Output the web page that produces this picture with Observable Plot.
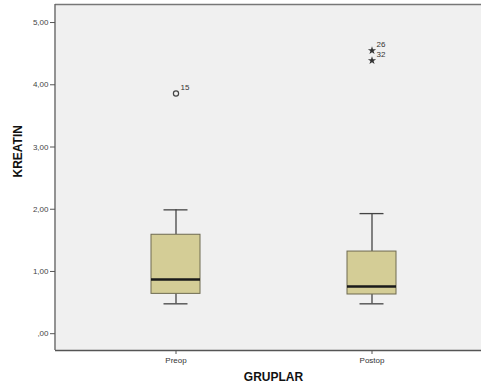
<!DOCTYPE html>
<html>
<head>
<meta charset="utf-8">
<script src="https://cdn.jsdelivr.net/npm/d3@7"></script>
<script src="https://cdn.jsdelivr.net/npm/@observablehq/plot@0.6"></script>
<style>
  html, body { margin: 0; padding: 0; background: #fff; overflow: hidden; width: 481px; height: 392px; }
  svg { font-family: "Liberation Sans", Arial, sans-serif; display: block; }
</style>
</head>
<body>
<div id="chart"></div>
<script>
const groups = ["Preop", "Postop"];
const whiskerLo = [0.48, 0.48];
const q1 = [0.64, 0.63];
const median = [0.87, 0.76];
const q3 = [1.59, 1.32];
const whiskerHi = [1.99, 1.93];

const outlierGroup = ["Preop", "Postop", "Postop"];
const outlierValue = [3.86, 4.55, 4.39];
const outlierLabel = ["15", "26", "32"];
const outlierKind = ["circle", "star", "star"];

const yTicks = [0, 1, 2, 3, 4, 5];

const boxes = groups.map((g, i) => ({g, lo: whiskerLo[i], q1: q1[i], med: median[i], q3: q3[i], hi: whiskerHi[i]}));
const outliers = outlierGroup.map((g, i) => ({g, v: outlierValue[i], label: outlierLabel[i], kind: outlierKind[i]}));

const fmt = d => d === 0 ? ",00" : d.toFixed(2).replace(".", ",");

// left frame edge drawn from the plot's own dimensions
const leftEdge = (index, scales, values, dims) => {
  const l = document.createElementNS("http://www.w3.org/2000/svg", "line");
  l.setAttribute("x1", dims.marginLeft);
  l.setAttribute("x2", dims.marginLeft);
  l.setAttribute("y1", dims.marginTop);
  l.setAttribute("y2", dims.height - dims.marginBottom);
  l.setAttribute("stroke", "#666");
  l.setAttribute("stroke-width", "1.4");
  return l;
};

const chart = Plot.plot({
  width: 481,
  height: 392,
  marginLeft: 55,
  marginRight: 0,
  marginTop: 4,
  marginBottom: 42,
  style: {background: "#fff", fontFamily: "Liberation Sans, Arial, sans-serif"},
  x: {type: "band", domain: groups, range: [55, 491], paddingInner: 0.75, paddingOuter: 0.487, align: 0.5, label: null},
  y: {domain: [-0.27, 5.29], label: null},
  marks: [
    Plot.frame({fill: "#f0f0f0", stroke: null}),
    Plot.ruleY([5.29], {stroke: "#777", strokeWidth: 1.6}),
    Plot.ruleY([-0.27], {stroke: "#555", strokeWidth: 1.4}),
    leftEdge,
    Plot.axisY({ticks: yTicks, tickFormat: fmt, tickSize: 5, fontSize: 8, color: "#444", stroke: "#555", label: null, tickPadding: 2}),
    Plot.axisX({tickSize: 4, fontSize: 8, color: "#333", stroke: "#555", label: null, tickPadding: 3}),
    Plot.ruleX(boxes, {x: "g", y1: "lo", y2: "q1", stroke: "#444", strokeWidth: 1.3}),
    Plot.ruleX(boxes, {x: "g", y1: "q3", y2: "hi", stroke: "#444", strokeWidth: 1.3}),
    Plot.tickY(boxes, {x: "g", y: "lo", stroke: "#444", strokeWidth: 1.3, insetLeft: 12.5, insetRight: 12.5}),
    Plot.tickY(boxes, {x: "g", y: "hi", stroke: "#444", strokeWidth: 1.3, insetLeft: 12.5, insetRight: 12.5}),
    Plot.barY(boxes, {x: "g", y1: "q1", y2: "q3", fill: "#d4cd96", stroke: "#6e6a50", strokeWidth: 1}),
    Plot.tickY(boxes, {x: "g", y: "med", stroke: "#1a1a1a", strokeWidth: 2.5}),
    Plot.dot(outliers.filter(d => d.kind === "circle"), {x: "g", y: "v", r: 2.6, stroke: "#444", strokeWidth: 1.2, fill: "none"}),
    Plot.dot(outliers.filter(d => d.kind === "star"), {x: "g", y: "v", symbol: "star", r: 2.6, fill: "#333", stroke: "none"}),
    Plot.text(outliers, {x: "g", y: "v", text: "label", fontSize: 8, fill: "#333", dx: 9, dy: -6}),
    Plot.text(["KREATIN"], {frameAnchor: "left", dx: -37, rotate: -90, fontSize: 12, fontWeight: "bold", fill: "#111"}),
    Plot.text(["GRUPLAR"], {frameAnchor: "bottom", dy: 30, dx: 5, fontSize: 12, fontWeight: "bold", fill: "#111"})
  ]
});
document.getElementById("chart").appendChild(chart);
</script>
</body>
</html>
